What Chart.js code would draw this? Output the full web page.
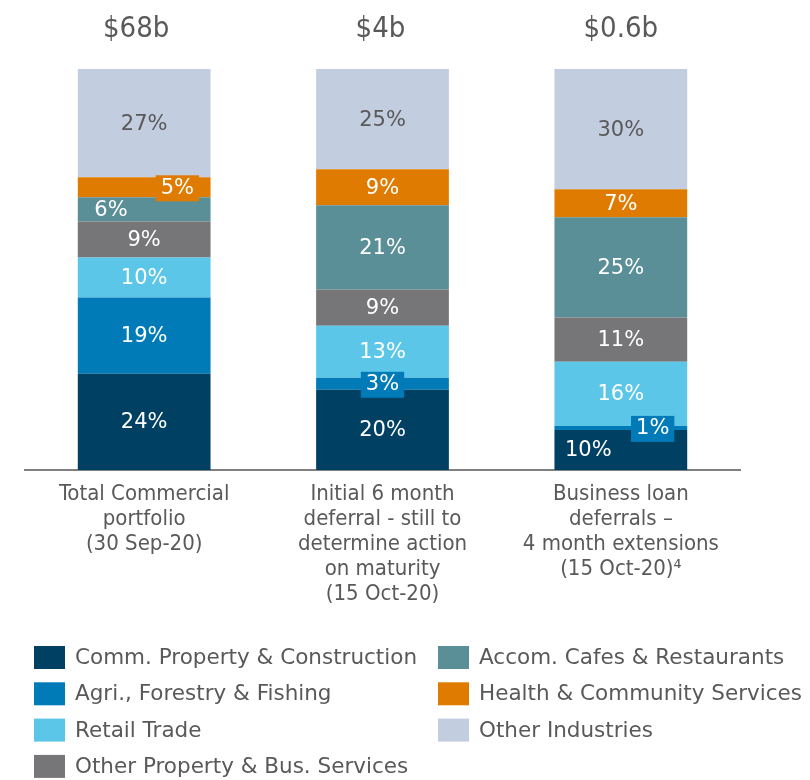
<!DOCTYPE html>
<html>
<head>
<meta charset="utf-8">
<script src="https://cdn.jsdelivr.net/npm/chart.js@4.4.1/dist/chart.umd.min.js"></script>
<style>
  html, body { margin: 0; padding: 0; background: #ffffff; }
  #wrap { position: relative; width: 810px; height: 780px; }
</style>
</head>
<body>
<div id="wrap"><canvas id="chart" width="810" height="780"></canvas></div>
<script>
// Portfolio mix by industry (% of each column)
const categories = [
  ['Total Commercial', 'portfolio', '(30 Sep-20)'],
  ['Initial 6 month', 'deferral - still to', 'determine action', 'on maturity', '(15 Oct-20)'],
  ['Business loan', 'deferrals \u2013', '4 month extensions', '(15 Oct-20)\u2074']
];
const totals = ['$68b', '$4b', '$0.6b'];

const seriesNames = [
  'Comm. Property & Construction',
  'Agri., Forestry & Fishing',
  'Retail Trade',
  'Other Property & Bus. Services',
  'Accom. Cafes & Restaurants',
  'Health & Community Services',
  'Other Industries'
];
const commProperty    = [24, 20, 10];
const agriForestry    = [19, 3, 1];
const retailTrade     = [10, 13, 16];
const otherPropBus    = [9, 9, 11];
const accomCafes      = [6, 21, 25];
const healthCommunity = [5, 9, 7];
const otherIndustries = [27, 25, 30];

const seriesValues = [commProperty, agriForestry, retailTrade, otherPropBus,
                      accomCafes, healthCommunity, otherIndustries];
const seriesColors = ['#004062', '#007bb8', '#5bc6e8', '#767679',
                      '#5a8f97', '#df7b00', '#c2cde0'];
const labelColors  = ['#ffffff', '#ffffff', '#ffffff', '#ffffff',
                      '#ffffff', '#ffffff', '#595959'];

// Thin segments get their label nudged sideways and/or placed on a tag.
// key: "series-category", dx as a fraction of bar width
const labelTweaks = {
  '4-0': { dx: -0.25 },
  '5-0': { dx: 0.25, box: true },
  '1-1': { dx: 0, box: true },
  '0-2': { dx: -0.245 },
  '1-2': { dx: 0.24, box: true }
};
// horizontal nudge (px) of the column totals
const totalsNudge = [-8, -2, 0];

const GREY = '#595959';
const CONDENSED = "'DejaVu Sans Condensed', 'DejaVu Sans', sans-serif";
const REGULAR = "'DejaVu Sans', sans-serif";

const segmentLabels = {
  id: 'segmentLabels',
  afterDatasetsDraw(chart) {
    const ctx = chart.ctx;
    ctx.save();
    ctx.font = '21px ' + REGULAR;
    ctx.textAlign = 'center';
    ctx.textBaseline = 'middle';
    chart.data.datasets.forEach((ds, i) => {
      const meta = chart.getDatasetMeta(i);
      meta.data.forEach((bar, j) => {
        const v = ds.data[j];
        const tweak = labelTweaks[i + '-' + j] || { dx: 0 };
        const text = v + '%';
        const x = bar.x + tweak.dx * bar.width;
        const y = (bar.y + bar.base) / 2 + 1;
        if (tweak.box) {
          const w = ctx.measureText(text).width + 10;
          ctx.fillStyle = ds.backgroundColor;
          ctx.fillRect(x - w / 2, y - 13, w, 26);
        }
        ctx.fillStyle = labelColors[i];
        ctx.fillText(text, x, y);
      });
    });
    ctx.restore();
  }
};

const headerAndLegend = {
  id: 'headerAndLegend',
  afterDraw(chart) {
    const ctx = chart.ctx;
    const xs = chart.scales.x;
    ctx.save();
    // column totals above the bars
    ctx.font = '29px ' + CONDENSED;
    ctx.fillStyle = GREY;
    ctx.textAlign = 'center';
    ctx.textBaseline = 'alphabetic';
    totals.forEach((t, j) => {
      ctx.fillText(t, xs.getPixelForValue(j) + totalsNudge[j], 37);
    });
    // two-column legend, filled column by column
    const colX = [34, 438];
    const rowTop = 646, rowStep = 36.3;
    const perCol = 4;
    ctx.font = '21.5px ' + REGULAR;
    ctx.textAlign = 'left';
    ctx.textBaseline = 'middle';
    chart.data.datasets.forEach((ds, i) => {
      const col = Math.floor(i / perCol);
      const row = i % perCol;
      const bx = colX[col];
      const by = rowTop + row * rowStep;
      ctx.fillStyle = ds.backgroundColor;
      ctx.fillRect(bx, by, 31, 23);
      ctx.fillStyle = GREY;
      ctx.fillText(ds.label, bx + 41, by + 12.5);
    });
    ctx.restore();
  }
};

new Chart(document.getElementById('chart'), {
  type: 'bar',
  data: {
    labels: categories,
    datasets: seriesNames.map((name, i) => ({
      label: name,
      data: seriesValues[i],
      backgroundColor: seriesColors[i],
      borderWidth: 0,
      categoryPercentage: 1,
      barPercentage: 0.557
    }))
  },
  options: {
    responsive: false,
    animation: false,
    layout: { padding: { left: 25, right: 70, top: 69, bottom: 161 } },
    plugins: {
      legend: { display: false },
      tooltip: { enabled: false }
    },
    scales: {
      x: {
        stacked: true,
        grid: { display: false, drawTicks: false },
        border: { display: true, color: '#808080', width: 2 },
        ticks: {
          color: GREY,
          padding: 12,
          maxRotation: 0,
          autoSkip: false,
          font: { family: CONDENSED, size: 22, lineHeight: '25px' }
        }
      },
      y: {
        stacked: true,
        display: false,
        min: 0,
        max: 100
      }
    }
  },
  plugins: [segmentLabels, headerAndLegend]
});
</script>
</body>
</html>
